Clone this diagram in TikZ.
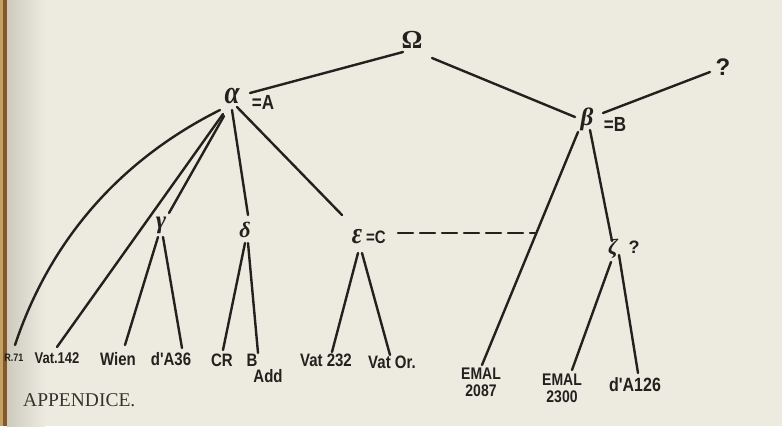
\documentclass[tikz,border=0pt]{standalone}
\usepackage{fontspec}
\newfontfamily\handfont{Liberation Sans}
\newfontfamily\printfont{Liberation Serif}
\newfontfamily\grkfont{Liberation Serif}
\newcommand{\hw}[1]{\scalebox{1}[1.2]{#1}}
\usetikzlibrary{calc}
\definecolor{paper}{RGB}{237,234,224}
\definecolor{ink}{RGB}{35,33,30}
\definecolor{bindtan}{RGB}{196,160,100}
\definecolor{bindbrown}{RGB}{125,90,50}
\definecolor{shadowgray}{RGB}{205,202,190}
\definecolor{printink}{RGB}{55,52,48}
\tikzset{
  greek/.style={inner sep=0pt, text=ink, font=\grkfont\bfseries\itshape\fontsize{25}{25}\selectfont},
  hand/.style={inner sep=0pt, text=ink, align=center, font=\handfont\bfseries\fontsize{15}{17}\selectfont},
  link/.style={draw=ink, line width=2.4pt, line cap=round},
  dashlink/.style={link, dash pattern=on 15pt off 7pt},
}
\begin{document}
\begin{tikzpicture}[x=1pt,y=-1pt]
\useasboundingbox (0,0) rectangle (782,426);
% paper
\fill[paper] (0,0) rectangle (782,426);
\shade[left color=shadowgray, right color=paper] (7,0) rectangle (45,426);
\fill[bindtan] (0,0) rectangle (3,426);
\fill[bindbrown] (3,0) rectangle (7,426);

% inner nodes
\node[greek, font=\grkfont\bfseries\fontsize{26}{26}\selectfont] (Omega) at (412,40) {Ω};
\node[greek, font=\grkfont\bfseries\itshape\fontsize{27}{27}\selectfont] (alpha) at (232,96) {\hw{α}};
\node[hand, font=\handfont\bfseries\fontsize{17}{17}\selectfont] (alphaeq) at (263,102) {\hw{=A}};
\node[greek] (beta) at (587,119) {β};
\node[hand, font=\handfont\bfseries\fontsize{17}{17}\selectfont] (betaeq) at (615,124) {\hw{=B}};
\node[hand, font=\handfont\bfseries\fontsize{24}{24}\selectfont] (q) at (723,67) {?};
\node[greek] (gamma) at (161,225) {γ};
\node[greek, font=\grkfont\bfseries\itshape\fontsize{22}{22}\selectfont] (delta) at (245,230) {δ};
\node[greek] (eps) at (357,237) {\hw{ε}};
\node[hand] (epseq) at (376,237) {\hw{=C}};
\node[greek, font=\grkfont\bfseries\itshape\fontsize{22}{22}\selectfont] (zeta) at (613,249) {ζ};
\node[hand, font=\handfont\bfseries\fontsize{18}{18}\selectfont] (zetaq) at (634,247) {?};

% leaves
\node[hand, font=\handfont\bfseries\fontsize{9}{10}\selectfont] (R71) at (14,358) {\hw{R.71}};
\node[hand, font=\handfont\bfseries\fontsize{13}{15}\selectfont] (vat142) at (57,358) {\hw{Vat.142}};
\node[hand] (wien) at (118,359) {\hw{Wien}};
\node[hand] (dAa) at (171,359) {\hw{d'A36}};
\node[hand] (CR) at (222,360) {\hw{CR}};
\node[hand] (Bn) at (252,360) {\hw{B}};
\node[hand] (Add) at (268,376) {\hw{Add}};
\node[hand] (vat232) at (326,360) {\hw{Vat 232}};
\node[hand] (vatOr) at (392,362) {\hw{Vat Or.}};
\node[hand, font=\handfont\bfseries\fontsize{14}{17}\selectfont] (emalA) at (481,382) {\hw{EMAL}\\\hw{2087}};
\node[hand, font=\handfont\bfseries\fontsize{14}{17}\selectfont] (emalB) at (562,388) {\hw{EMAL}\\\hw{2300}};
\node[hand, font=\handfont\bfseries\fontsize{16}{17}\selectfont] (dAb) at (635,385) {\hw{d'A126}};

\node[anchor=west, inner sep=0pt, text=printink, font=\printfont\fontsize{19.5}{20}\selectfont] (appx) at (23,400) {APPENDICE.};

% connectors
\draw[link] ($(alphaeq)+(-13,-9)$) -- ($(Omega)+(-9,12)$);
\draw[link] ($(Omega)+(20,18)$) -- ($(beta)+(-12,-2)$);
\draw[link] ($(betaeq)+(-12,-11)$) -- ($(q)+(-13,5)$);
\draw[link] ($(alpha)+(-12,14)$) .. controls (120,160) and (50,240) .. ($(R71)+(1,-13)$);
\draw[link] ($(alpha)+(-9,18)$) -- ($(vat142)+(0,-11)$);
\draw[link] ($(alpha)+(-8,20)$) -- ($(gamma)+(8,-12)$);
\draw[link] ($(alpha)+(0,14)$) -- ($(delta)+(3,-15)$);
\draw[link] ($(alpha)+(5,11)$) -- ($(eps)+(-15,-22)$);
\draw[link] ($(gamma)+(-3,12)$) -- ($(wien)+(7,-14)$);
\draw[link] ($(gamma)+(2,12)$) -- ($(dAa)+(11,-11)$);
\draw[link] ($(delta)+(0,13)$) -- ($(CR)+(1,-10)$);
\draw[link] ($(delta)+(3,13)$) -- ($(Bn)+(6,-7)$);
\draw[link] ($(eps)+(1,16)$) -- ($(vat232)+(6,-8)$);
\draw[link] ($(eps)+(5,16)$) -- ($(vatOr)+(-2,-7)$);
\draw[link] ($(beta)+(-9,13)$) -- ($(emalA)+(1,-17)$);
\draw[link] ($(beta)+(3,11)$) -- ($(zeta)+(-1,-8)$);
\draw[link] ($(zeta)+(-2,13)$) -- ($(emalB)+(10,-18)$);
\draw[link] ($(zeta)+(6,6)$) -- ($(dAb)+(3,-12)$);
\coordinate (dashend) at (536,233);
\draw[dashlink] ($(epseq)+(22,-4)$) -- (dashend);
\end{tikzpicture}
\end{document}
